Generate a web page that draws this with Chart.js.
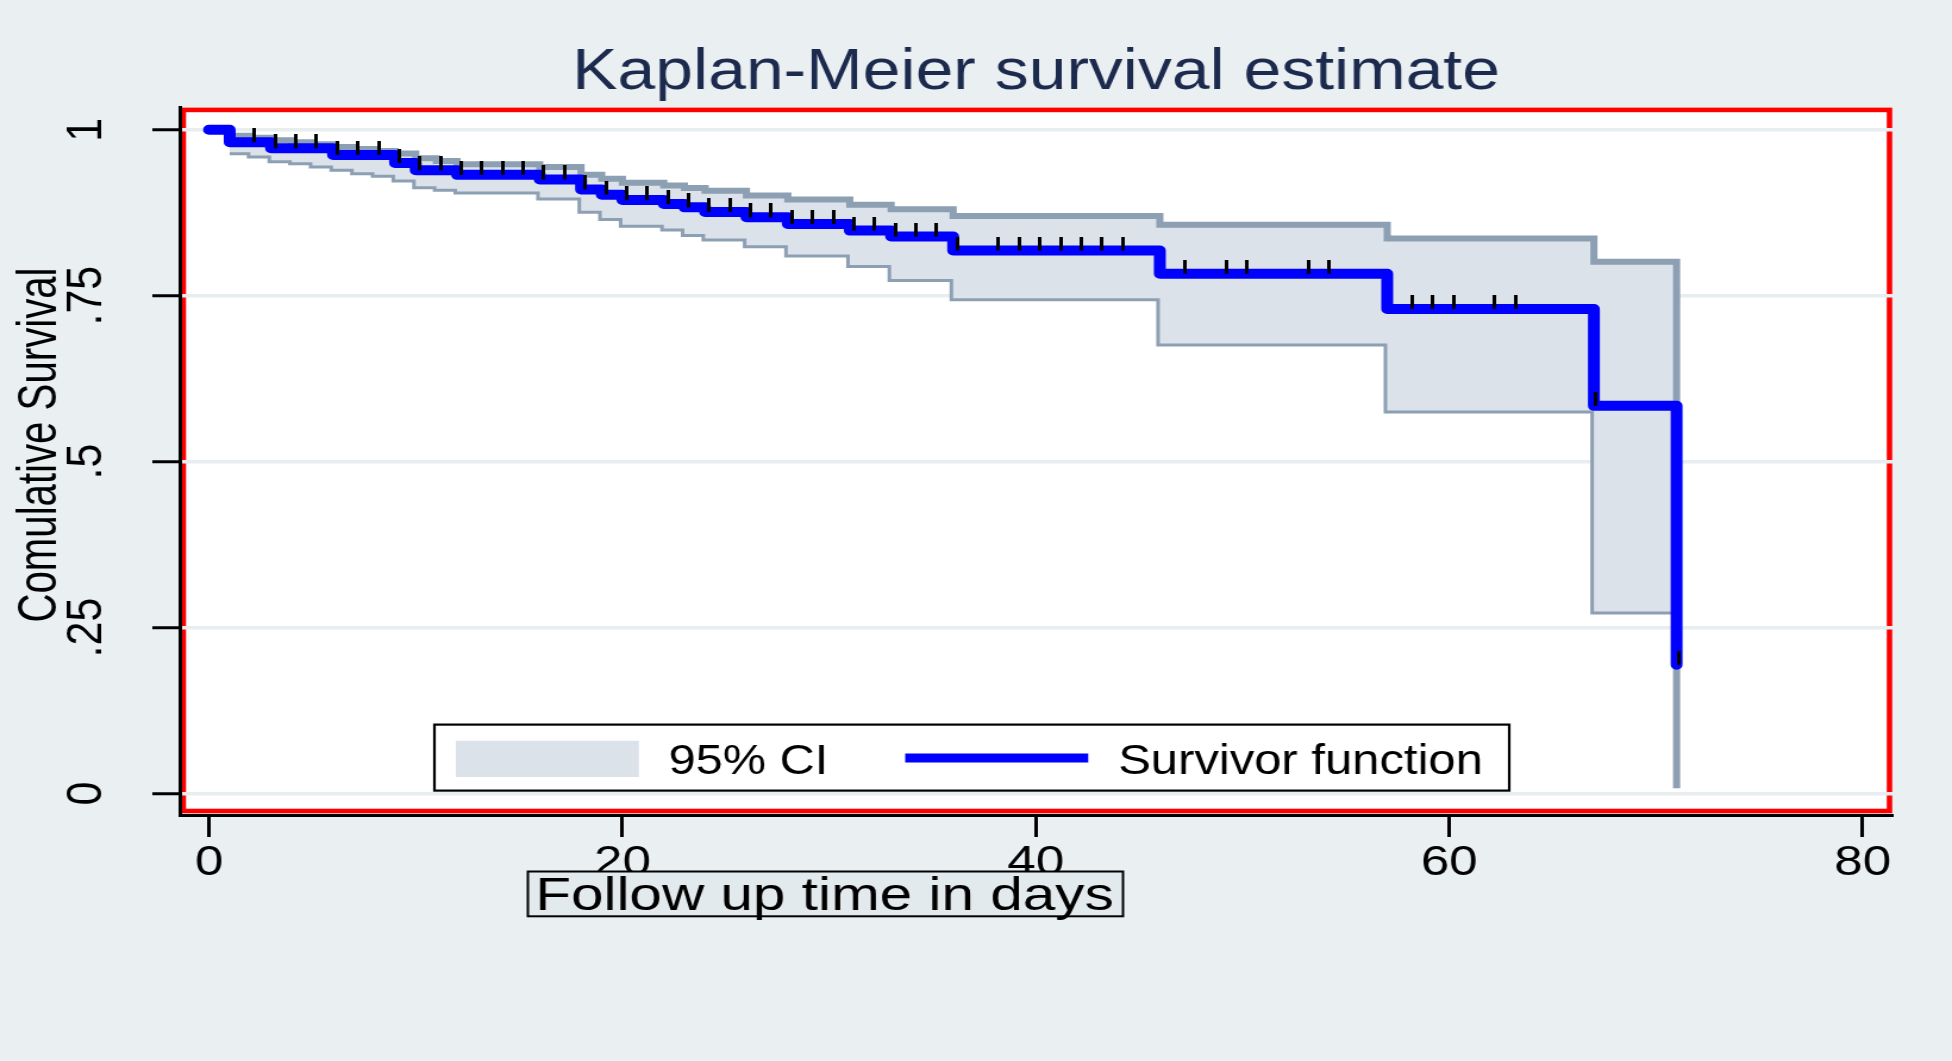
<!DOCTYPE html>
<html>
<head>
<meta charset="utf-8">
<title>Kaplan-Meier survival estimate</title>
<script src="https://cdn.jsdelivr.net/npm/chart.js@4.4.1/dist/chart.umd.min.js"></script>
<style>
    html, body { margin: 0; padding: 0; background: #eaf0f2; overflow: hidden; }
    /* the source graph is stretched sideways, so the chart is drawn narrower and widened */
    #stage { width: 1640px; height: 1061px; transform: scaleX(1.19024); transform-origin: 0 0; }
</style>
</head>
<body>
<div id="stage"><canvas id="kmChart" width="1640" height="1061"></canvas></div>
<script>
// Kaplan-Meier estimate (failure times and survival)
const kmTimes = [0, 1, 3, 6, 9, 10, 12, 16, 18, 19, 20, 22, 23, 24, 26, 28, 31, 33, 36, 46, 57, 67, 71];
const kmSurvival = [1, 0.981, 0.972, 0.962, 0.950, 0.939, 0.932, 0.925, 0.910, 0.902, 0.894, 0.888,
    0.883, 0.876, 0.868, 0.858, 0.848, 0.839, 0.818, 0.783, 0.730, 0.584, 0.194];

// 95% confidence band
const ciTimes = [1, 2, 3, 4, 5, 6, 7, 8, 9, 10, 11, 12, 16, 18, 19, 20, 22, 23, 24, 26, 28, 31, 33, 36, 46, 57, 67, 71];
const ciLower = [0.966, 0.961, 0.954, 0.951, 0.946, 0.941, 0.936, 0.932, 0.925, 0.915, 0.911, 0.907, 0.898,
    0.878, 0.867, 0.857, 0.851, 0.843, 0.836, 0.826, 0.812, 0.796, 0.775, 0.746, 0.678, 0.577, 0.274, 0.008];
const ciUpper = [0.991, 0.988, 0.984, 0.981, 0.978, 0.974, 0.971, 0.968, 0.964, 0.957, 0.953, 0.948, 0.944,
    0.932, 0.926, 0.920, 0.916, 0.912, 0.908, 0.901, 0.895, 0.887, 0.880, 0.870, 0.857, 0.836, 0.801, 0.55];

// censored observations (tick marks on the curve)
const censorTimes = [2.2, 3.2, 4.2, 5.2, 6.2, 7.2, 8.2, 9.2, 10.2, 11.2, 12.2, 13.2, 14.2, 15.2, 16.2, 17.2,
    18.2, 19.2, 20.2, 21.2, 22.2, 23.2, 24.2, 25.2, 26.2, 27.2, 28.2, 29.2, 30.2, 31.2, 32.2, 33.2, 34.2, 35.2,
    36.2, 38.2, 39.2, 40.2, 41.2, 42.2, 43.2, 44.2, 47.2, 49.2, 50.2, 53.2, 54.2, 58.2, 59.2, 60.2, 62.2, 63.2,
    67.1, 71.1];
const censorSurvival = [0.981, 0.972, 0.972, 0.972, 0.962, 0.962, 0.962, 0.950, 0.939, 0.939, 0.932, 0.932,
    0.932, 0.932, 0.925, 0.925, 0.910, 0.902, 0.894, 0.894, 0.888, 0.883, 0.876, 0.876, 0.868, 0.868, 0.858,
    0.858, 0.858, 0.848, 0.848, 0.839, 0.839, 0.839, 0.818, 0.818, 0.818, 0.818, 0.818, 0.818, 0.818, 0.818,
    0.783, 0.783, 0.783, 0.783, 0.783, 0.730, 0.730, 0.730, 0.730, 0.730, 0.584, 0.194];

// axes
const xTickValues = [0, 20, 40, 60, 80];
const yTickValues = [0, 0.25, 0.5, 0.75, 1];
const yTickLabels = ['0', '.25', '.5', '.75', '1'];

const BLUE = '#0000ff';
const CI_FILL = '#dce2ea';
const CI_LINE = '#8c9fb3';
const GRID = '#e8eef0';
const FONT = '"Liberation Sans", Arial, sans-serif';

Chart.defaults.font.family = FONT;

function toPoints(xs, ys) {
    return xs.map((x, i) => ({ x: x, y: ys[i] }));
}

// small black tick sitting on top of the curve
function makeCensorMark() {
    const c = document.createElement('canvas');
    c.width = 3;
    c.height = 28;
    const g = c.getContext('2d');
    g.fillStyle = '#000';
    g.fillRect(0, 0, 3, 14);
    return c;
}

function fitText(ctx, text, x, y, size, width, align) {
    ctx.save();
    ctx.font = size + 'px ' + FONT;
    ctx.fillStyle = '#000';
    ctx.textAlign = 'left';
    ctx.textBaseline = 'alphabetic';
    const natural = ctx.measureText(text).width;
    ctx.translate(align === 'center' ? x - width / 2 : x, y);
    ctx.scale(width / natural, 1);
    ctx.fillText(text, 0, 0);
    ctx.restore();
}

const kmDecor = {
    id: 'kmDecor',
    beforeDraw(chart) {
        const { ctx, chartArea: a } = chart;
        ctx.save();
        ctx.fillStyle = '#ffffff';
        ctx.fillRect(a.left, a.top, a.right - a.left, a.bottom - a.top);
        ctx.strokeStyle = '#ff0000';
        ctx.lineWidth = 4.6;
        ctx.strokeRect(a.left + 3, a.top + 2.5, a.right - a.left - 5.5, a.bottom - a.top - 6.5);
        ctx.restore();
    },
    afterDraw(chart) {
        const ctx = chart.ctx;
        const km = chart.data.datasets[1];
        const ci = chart.data.datasets[2];

        // y axis title
        ctx.save();
        ctx.translate(47, 445);
        ctx.rotate(-Math.PI / 2);
        fitText(ctx, 'Comulative Survival', 0, 0, 47, 355, 'center');
        ctx.restore();

        // x axis title in its box
        ctx.save();
        ctx.fillStyle = '#e3eaee';
        ctx.fillRect(443.5, 871.5, 500, 44.8);
        ctx.strokeStyle = '#000';
        ctx.lineWidth = 2;
        ctx.strokeRect(443.5, 871.5, 500, 44.8);
        ctx.restore();
        fitText(ctx, 'Follow up time in days', 449.7, 910, 47, 486);

        // legend
        ctx.save();
        ctx.fillStyle = '#ffffff';
        ctx.fillRect(365, 724.6, 903, 66);
        ctx.strokeStyle = '#000';
        ctx.lineWidth = 2.2;
        ctx.strokeRect(365, 724.6, 903, 66);
        ctx.fillStyle = ci.backgroundColor;
        ctx.fillRect(383, 740.8, 153.7, 36.2);
        ctx.strokeStyle = km.borderColor;
        ctx.lineWidth = 9;
        ctx.beginPath();
        ctx.moveTo(760.5, 758);
        ctx.lineTo(914.3, 758);
        ctx.stroke();
        ctx.restore();
        fitText(ctx, ci.label, 561.8, 774, 43, 134);
        fitText(ctx, km.label, 939.4, 774, 43, 306.4);
    }
};

new Chart(document.getElementById('kmChart'), {
    type: 'line',
    data: {
        datasets: [
            {
                label: 'Censored',
                data: toPoints(censorTimes, censorSurvival),
                showLine: false,
                pointStyle: makeCensorMark(),
                pointRadius: 2,
                pointHoverRadius: 2
            },
            {
                label: 'Survivor function',
                data: toPoints(kmTimes, kmSurvival),
                stepped: 'before',
                borderColor: BLUE,
                borderWidth: 10,
                borderCapStyle: 'round',
                borderJoinStyle: 'round',
                pointRadius: 0,
                fill: false
            },
            {
                label: '95% CI',
                data: toPoints(ciTimes, ciUpper),
                stepped: 'before',
                borderColor: CI_LINE,
                backgroundColor: CI_FILL,
                borderWidth: 6,
                pointRadius: 0,
                fill: '+1'
            },
            {
                label: '95% CI lower',
                data: toPoints(ciTimes, ciLower),
                stepped: 'before',
                borderColor: CI_LINE,
                borderWidth: 6,
                pointRadius: 0,
                fill: false
            }
        ]
    },
    options: {
        responsive: false,
        animation: false,
        devicePixelRatio: 1,
        layout: { padding: { top: 0, right: 50, bottom: 0, left: 0 } },
        plugins: {
            legend: { display: false },
            tooltip: { enabled: false },
            title: {
                display: true,
                text: 'Kaplan-Meier survival estimate',
                color: '#1c2a4e',
                fullSize: false,
                font: { size: 57, weight: 'normal', lineHeight: 1.2 },
                padding: { top: 39, bottom: 0 }
            }
        },
        scales: {
            x: {
                type: 'linear',
                min: -1.4166,
                max: 81.445,
                afterBuildTicks: (scale) => { scale.ticks = xTickValues.map(v => ({ value: v })); },
                afterFit: (scale) => { scale.height = 246; },
                grid: { drawOnChartArea: false, drawTicks: true, tickLength: 22, tickWidth: 3, tickColor: '#000' },
                border: { display: true, color: '#000', width: 3 },
                ticks: {
                    color: '#000',
                    font: { size: 43 },
                    padding: 0,
                    minRotation: 0,
                    maxRotation: 0,
                    autoSkip: false,
                    callback: (v) => String(v)
                }
            },
            y: {
                type: 'linear',
                min: -0.0324,
                max: 1.0336,
                afterBuildTicks: (scale) => { scale.ticks = yTickValues.map(v => ({ value: v })); },
                afterFit: (scale) => { scale.width = 151; },
                grid: { color: GRID, lineWidth: 3.5, drawTicks: true, tickLength: 23, tickWidth: 3, tickColor: '#000' },
                border: { display: true, color: '#000', width: 3 },
                ticks: {
                    color: '#000',
                    font: { size: 43 },
                    padding: 25,
                    crossAlign: 'center',
                    minRotation: 90,
                    maxRotation: 90,
                    autoSkip: false,
                    callback: (v) => yTickLabels[yTickValues.indexOf(v)]
                }
            }
        }
    },
    plugins: [kmDecor]
});
</script>
</body>
</html>
